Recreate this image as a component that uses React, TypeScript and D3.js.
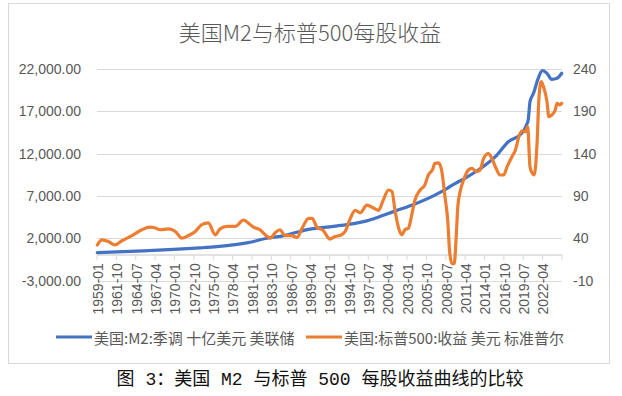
import { useEffect, useRef } from "react";
import * as d3 from "d3";

const xTickLabels = [
  "1959-01", "1961-10", "1964-07", "1967-04", "1970-01", "1972-10",
  "1975-07", "1978-04", "1981-01", "1983-10", "1986-07", "1989-04",
  "1992-01", "1994-10", "1997-07", "2000-04", "2003-01", "2005-10",
  "2008-07", "2011-04", "2014-01", "2016-10", "2019-07", "2022-04",
];

const leftTicks = [-3000, 2000, 7000, 12000, 17000, 22000];
const rightTicks = [-10, 40, 90, 140, 190, 240];

// 美国 M2 (十亿美元)
const m2Dates = [
  "1959-01", "1964-08", "1970-07", "1973-08", "1976-01", "1980-06",
  "1983-02", "1985-03", "1987-10", "1989-01", "1992-07", "1995-08",
  "1997-04", "1998-06", "2001-04", "2004-02", "2006-12", "2008-09",
  "2009-11", "2011-03", "2013-02", "2015-07", "2017-05", "2019-04",
  "2019-12", "2020-03", "2020-06", "2020-12", "2021-08", "2022-03",
  "2022-11", "2023-07", "2024-04", "2024-12",
];
const m2Values = [
  300, 480, 700, 850, 1000, 1470,
  2000, 2250, 2800, 3050, 3400, 3760,
  4050, 4350, 5200, 6050, 7100, 7900,
  8490, 9080, 10060, 11630, 13400, 14400,
  15380, 16000, 18140, 19130, 20900, 21800,
  21490, 20780, 20900, 21500,
];

// 标普500 每股收益
const epsDates = [
  "1959-01", "1959-09", "1960-08", "1961-07", "1962-07", "1963-12",
  "1965-05", "1966-07", "1967-04", "1967-12", "1969-02", "1970-02",
  "1971-01", "1971-12", "1972-12", "1973-11", "1974-10", "1975-10",
  "1976-06", "1977-06", "1978-08", "1979-10", "1980-06", "1981-03",
  "1982-02", "1982-11", "1983-08", "1984-04", "1984-12", "1985-09",
  "1986-08", "1987-05", "1988-02", "1989-01", "1989-07", "1990-03",
  "1991-02", "1992-01", "1992-10", "1993-07", "1994-03", "1994-12",
  "1995-08", "1996-05", "1997-04", "1997-12", "1998-12", "1999-08",
  "2000-05", "2000-11", "2001-04", "2001-11", "2002-04", "2002-09",
  "2003-03", "2003-09", "2004-02", "2004-11", "2005-07", "2006-01",
  "2006-08", "2006-12", "2007-06", "2007-11", "2008-05", "2008-10",
  "2009-01", "2009-05", "2009-09", "2009-12", "2010-03", "2010-07",
  "2011-01", "2011-09", "2012-03", "2012-11", "2013-05", "2013-11",
  "2014-07", "2015-01", "2015-07", "2016-03", "2016-09", "2017-03",
  "2017-11", "2018-05", "2018-12", "2019-05", "2019-11", "2020-02",
  "2020-06", "2020-10", "2021-01", "2021-06", "2021-09", "2022-01",
  "2022-05", "2022-11", "2023-02", "2023-07", "2024-01", "2024-04",
  "2024-09", "2024-12",
];
const epsValues = [
  32, 38, 36, 32, 37, 43,
  50, 53, 52, 50, 51, 48,
  40, 43, 48, 56, 58, 44,
  51, 54, 54, 61.5, 58, 53,
  50, 44, 40, 46.5, 50, 43,
  43, 41, 52, 63.5, 63.5, 53,
  49, 39, 42, 43.5, 47.7, 63.5,
  73, 70, 79, 77, 73, 85,
  97, 95, 73, 50, 44, 50,
  52, 69, 85, 97, 103, 115,
  121, 128.5, 129, 122, 90, 60,
  25, 10, 10, 38, 77, 95,
  109, 120.6, 122.6, 118.6, 120.6, 134.4,
  140, 134.4, 124.5, 114.7, 114.7, 124.5,
  136, 144, 162, 167, 166, 172,
  124.5, 116.7, 114.7, 152, 203, 225,
  219, 201, 183.6, 185.6, 191.5, 199.5,
  197.5, 199.5,
];

const W = 622;
const H = 396;
const left = 97;
const right = 562;
const top = 69;
const bottom = 280.5;
const grey = "#595959";
const axisFont = "'Liberation Sans', Arial, sans-serif";
const cjkFont = "'Noto Sans CJK SC', sans-serif";

const App = () => {
  const svgRef = useRef<SVGSVGElement | null>(null);

  useEffect(() => {
    if (!svgRef.current) return;
    const svg = d3.select(svgRef.current);
    svg.selectAll("*").remove();

    const fmt = d3.timeFormat("%Y-%m");
    const months = d3
      .timeMonth.range(new Date(1959, 0, 1), new Date(2025, 0, 1))
      .map((d) => fmt(d));

    const x = d3.scaleBand<string>().domain(months).range([left, right]);
    const bw = x.bandwidth();
    const cx = (m: string) => (x(m) ?? 0) + bw / 2;

    const yL = d3.scaleLinear().domain([-3000, 22000]).range([bottom, top]);
    const yR = d3.scaleLinear().domain([-10, 240]).range([bottom, top]);

    svg
      .append("rect")
      .attr("x", 8.5)
      .attr("y", 3.5)
      .attr("width", 601)
      .attr("height", 360)
      .attr("fill", "#fff")
      .attr("stroke", "#d9d9d9");

    svg
      .append("text")
      .text("美国M2与标普500每股收益")
      .attr("x", 310)
      .attr("y", 31)
      .attr("text-anchor", "middle")
      .attr("dominant-baseline", "central")
      .attr("font-family", cjkFont)
      .attr("font-weight", 300)
      .attr("font-size", 22)
      .attr("fill", grey);

    // gridlines
    svg
      .selectAll("line.grid")
      .data(leftTicks)
      .enter()
      .append("line")
      .attr("class", "grid")
      .attr("x1", left)
      .attr("x2", right)
      .attr("y1", (d) => Math.round(yL(d)) + 0.5)
      .attr("y2", (d) => Math.round(yL(d)) + 0.5)
      .attr("stroke", "#d9d9d9")
      .attr("stroke-width", 1);

    // category axis (crosses at 0)
    const axisY = yL(0);
    svg
      .append("line")
      .attr("x1", left)
      .attr("x2", right)
      .attr("y1", axisY)
      .attr("y2", axisY)
      .attr("stroke", "#d9d9d9")
      .attr("stroke-width", 1.5);

    const tickIdx = d3.range(0, months.length + 1, 33);
    svg
      .selectAll("line.tick")
      .data(tickIdx)
      .enter()
      .append("line")
      .attr("class", "tick")
      .attr("x1", (i) => left + i * bw)
      .attr("x2", (i) => left + i * bw)
      .attr("y1", axisY)
      .attr("y2", axisY + 5)
      .attr("stroke", "#d9d9d9");

    svg
      .selectAll("text.xl")
      .data(xTickLabels)
      .enter()
      .append("text")
      .attr("class", "xl")
      .text((d) => d)
      .attr("transform", (d) => `translate(${cx(d) + 0.5},${axisY + 8}) rotate(-90)`)
      .attr("text-anchor", "end")
      .attr("dominant-baseline", "central")
      .attr("font-family", axisFont)
      .attr("font-size", 14)
      .attr("fill", grey);

    svg
      .selectAll("text.yl")
      .data(leftTicks)
      .enter()
      .append("text")
      .attr("class", "yl")
      .text((d) => d3.format(",.2f")(d).replace("−", "-"))
      .attr("x", 81)
      .attr("y", (d) => yL(d))
      .attr("text-anchor", "end")
      .attr("dominant-baseline", "central")
      .attr("font-family", axisFont)
      .attr("font-size", 14)
      .attr("fill", grey);

    svg
      .selectAll("text.yr")
      .data(rightTicks)
      .enter()
      .append("text")
      .attr("class", "yr")
      .text((d) => String(d))
      .attr("x", 573)
      .attr("y", (d) => yR(d))
      .attr("dominant-baseline", "central")
      .attr("font-family", axisFont)
      .attr("font-size", 14)
      .attr("fill", grey);

    const m2Line = d3
      .line<number>()
      .x((_, i) => cx(m2Dates[i]))
      .y((d) => yL(d))
      .curve(d3.curveMonotoneX);
    const epsLine = d3
      .line<number>()
      .x((_, i) => cx(epsDates[i]))
      .y((d) => yR(d))
      .curve(d3.curveMonotoneX);

    svg
      .append("path")
      .attr("d", m2Line(m2Values))
      .attr("fill", "none")
      .attr("stroke", "#4472C4")
      .attr("stroke-width", 3.2)
      .attr("stroke-linejoin", "round")
      .attr("stroke-linecap", "round");

    svg
      .append("path")
      .attr("d", epsLine(epsValues))
      .attr("fill", "none")
      .attr("stroke", "#ED7D31")
      .attr("stroke-width", 3.2)
      .attr("stroke-linejoin", "round")
      .attr("stroke-linecap", "round");

    // legend
    const legend = [
      { name: "美国:M2:季调 十亿美元 美联储", color: "#4472C4", x0: 56 },
      { name: "美国:标普500:收益 美元 标准普尔", color: "#ED7D31", x0: 306 },
    ];
    const lg = svg.selectAll("g.lg").data(legend).enter().append("g");
    lg.append("line")
      .attr("x1", (d) => d.x0)
      .attr("x2", (d) => d.x0 + 36)
      .attr("y1", 337)
      .attr("y2", 337)
      .attr("stroke", (d) => d.color)
      .attr("stroke-width", 3.2);
    lg.append("text")
      .text((d) => d.name)
      .attr("x", (d) => d.x0 + 38)
      .attr("y", 337)
      .attr("dominant-baseline", "central")
      .attr("font-family", cjkFont)
      .attr("font-size", 15)
      .attr("fill", grey);

    svg
      .append("text")
      .text("图 3：美国 M2 与标普 500 每股收益曲线的比较")
      .attr("x", 320)
      .attr("y", 380)
      .attr("text-anchor", "middle")
      .attr("dominant-baseline", "central")
      .attr("font-family", "'Liberation Mono', 'Noto Sans CJK SC', monospace")
      .attr("font-size", 18)
      .attr("fill", "#111");
  }, []);

  return (
    <svg
      ref={svgRef}
      width={W}
      height={H}
      style={{ position: "absolute", left: 0, top: 0, background: "#fff" }}
    />
  );
};

export default App;
